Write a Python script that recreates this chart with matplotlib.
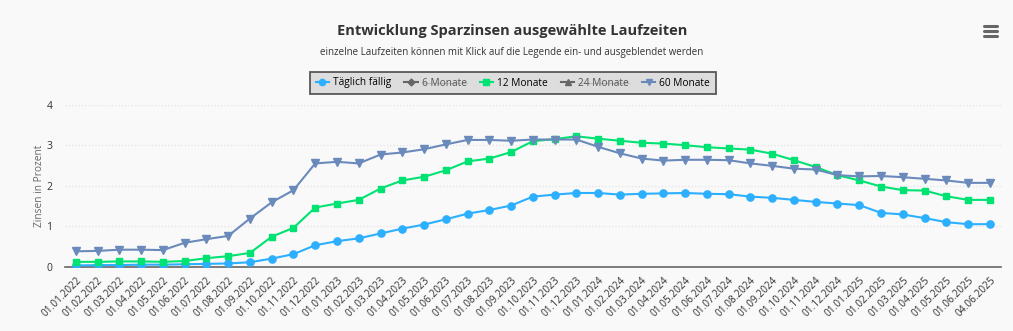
import matplotlib
matplotlib.use("Agg")
import matplotlib.pyplot as plt
from matplotlib.lines import Line2D

plt.rcParams['font.family'] = ['Open Sans', 'DejaVu Sans']

# Kategorien (Stichtage)
stichtage = [
    "01.01.2022", "01.02.2022", "01.03.2022", "01.04.2022", "01.05.2022", "01.06.2022",
    "01.07.2022", "01.08.2022", "01.09.2022", "01.10.2022", "01.11.2022", "01.12.2022",
    "01.01.2023", "01.02.2023", "01.03.2023", "01.04.2023", "01.05.2023", "01.06.2023",
    "01.07.2023", "01.08.2023", "01.09.2023", "01.10.2023", "01.11.2023", "01.12.2023",
    "01.01.2024", "01.02.2024", "01.03.2024", "01.04.2024", "01.05.2024", "01.06.2024",
    "01.07.2024", "01.08.2024", "01.09.2024", "01.10.2024", "01.11.2024", "01.12.2024",
    "01.01.2025", "01.02.2025", "01.03.2025", "01.04.2025", "01.05.2025", "01.06.2025",
    "04.06.2025",
]

# Zinsen in Prozent
taeglich = [0.03, 0.04, 0.04, 0.05, 0.05, 0.06, 0.07, 0.08, 0.11, 0.20, 0.31, 0.53, 0.63,
            0.70, 0.82, 0.94, 1.04, 1.17, 1.31, 1.40, 1.51, 1.73, 1.78, 1.82, 1.82, 1.78, 1.80, 1.81,
            1.82, 1.80, 1.79, 1.73, 1.70, 1.65, 1.60, 1.56, 1.52, 1.33, 1.29, 1.20, 1.10, 1.05, 1.05]
monate_12 = [0.12, 0.12, 0.13, 0.13, 0.12, 0.14, 0.21, 0.26, 0.34, 0.74, 0.96, 1.46, 1.56,
             1.65, 1.93, 2.13, 2.22, 2.38, 2.60, 2.67, 2.83, 3.10, 3.15, 3.22, 3.16, 3.11, 3.06, 3.04,
             3.00, 2.95, 2.92, 2.89, 2.79, 2.63, 2.46, 2.26, 2.13, 1.98, 1.89, 1.88, 1.74, 1.65, 1.65]
monate_60 = [0.38, 0.39, 0.42, 0.42, 0.41, 0.59, 0.68, 0.76, 1.19, 1.59, 1.89, 2.55, 2.59,
             2.55, 2.77, 2.82, 2.90, 3.02, 3.13, 3.13, 3.11, 3.14, 3.14, 3.14, 2.96, 2.80, 2.67, 2.62,
             2.64, 2.64, 2.63, 2.55, 2.49, 2.42, 2.40, 2.26, 2.23, 2.24, 2.21, 2.17, 2.13, 2.07, 2.07]

bg = '#f9f9f9'
W, H = 1013, 331
fig = plt.figure(figsize=(W / 100, H / 100), dpi=100, facecolor=bg)
ax = fig.add_axes([65 / W, (H - 266.7) / H, 935.7 / W, 162 / H], facecolor=bg)

x = list(range(len(stichtage)))
ax.plot(x, taeglich, color='#2caffe', lw=1.5, marker='o', ms=5.2, zorder=3)
ax.plot(x, monate_12, color='#00e272', lw=1.5, marker='s', ms=5.0, zorder=3)
ax.plot(x, monate_60, color='#6b8abc', lw=1.5, marker='v', ms=5.5, zorder=3)

ax.set_xlim(-0.5, len(stichtage) - 0.5)
ax.set_ylim(0, 4)
ax.set_yticks([0, 1, 2, 3, 4])
ax.set_xticks(x)
ax.set_xticklabels(stichtage, rotation=45, ha='right', rotation_mode='anchor',
                   fontsize=7.3, color='#333333')
ax.tick_params(axis='x', length=0, pad=6)
ax.tick_params(axis='y', length=0, pad=9, labelsize=7.5, labelcolor='#333333')

for s in ['top', 'right', 'left']:
    ax.spines[s].set_visible(False)
ax.spines['bottom'].set_color('#666666')
ax.spines['bottom'].set_linewidth(1.2)
ax.grid(axis='y', color='#e3e3e3', lw=0.9, ls=':')
ax.set_axisbelow(True)

ax.set_ylabel("Zinsen in Prozent", fontsize=7.3, color='#666666', labelpad=1)

fig.text(512 / W, 1 - 31 / H, "Entwicklung Sparzinsen ausgewählte Laufzeiten",
         ha='center', va='center', fontsize=10.5, fontweight='bold', color='#333333')
fig.text(512 / W, 1 - 52 / H,
         "einzelne Laufzeiten können mit Klick auf die Legende ein- und ausgeblendet werden",
         ha='center', va='center', fontsize=7, color='#333333')

# Menü-Symbol
for yy in (26, 31, 36):
    fig.add_artist(Line2D([984 / W, 997 / W], [1 - yy / H, 1 - yy / H],
                          color='#666666', lw=2.2, solid_capstyle='round'))

handles = [
    Line2D([], [], color='#2caffe', lw=1.5, marker='o', ms=4.5),
    Line2D([], [], color='#666666', lw=1.5, marker='D', ms=3.5),
    Line2D([], [], color='#00e272', lw=1.5, marker='s', ms=4.5),
    Line2D([], [], color='#666666', lw=1.5, marker='^', ms=4.5),
    Line2D([], [], color='#6b8abc', lw=1.5, marker='v', ms=4.5),
]
names = ["Täglich fällig", "6 Monate", "12 Monate", "24 Monate", "60 Monate"]
leg = fig.legend(handles, names, loc='center', bbox_to_anchor=(513 / W, 1 - 83 / H),
                 ncol=5, fontsize=7.3, frameon=True, fancybox=False, handlelength=1.3,
                 handletextpad=0.4, columnspacing=1.3, borderpad=0.55)
leg.get_frame().set_facecolor('#d6d6d6')
leg.get_frame().set_edgecolor('#333333')
leg.get_frame().set_linewidth(1.3)
texts = leg.get_texts()
for i in (1, 3):
    texts[i].set_color('#555555')

fig.canvas.draw()
r = fig.canvas.get_renderer()
for i in (1, 3):
    bb = texts[i].get_window_extent(r)
    ym = (bb.y0 + bb.y1) / 2 - 0.5
    fig.add_artist(Line2D([bb.x0 / W, bb.x1 / W], [ym / H, ym / H], color='#555555', lw=0.8))

fig.savefig('out.png', dpi=100, facecolor=bg)
